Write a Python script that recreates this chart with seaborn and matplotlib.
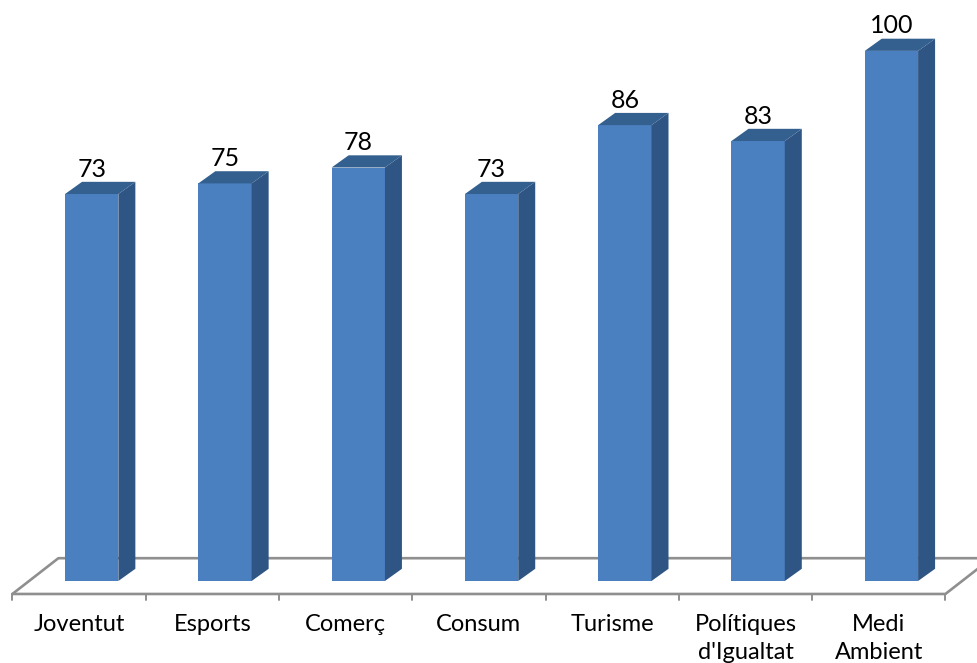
import matplotlib
matplotlib.use('Agg')
import matplotlib.pyplot as plt
import pandas as pd
import seaborn as sns
from matplotlib.patches import Polygon

categories = ['Joventut', 'Esports', 'Comerç', 'Consum', 'Turisme',
              "Polítiques\nd'Igualtat", 'Medi\nAmbient']
values = [73, 75, 78, 73, 86, 83, 100]

sns.set_theme(style='white')
plt.rcParams['font.family'] = ['Lato', 'DejaVu Sans']

df = pd.DataFrame({'area': categories, 'valor': values})

fig = plt.figure(figsize=(9.77, 6.63), dpi=100)
ax = fig.add_axes([0, 0, 1, 1])

# bars through seaborn, 3d faces are added from the bar patches below
sns.barplot(data=df, x='area', y='valor', color='#4a7fc0', saturation=1,
            width=0.4, linewidth=0, ax=ax, zorder=3)

ax.set_xlim(-0.688, 6.642)
ax.set_ylim(-15.47, 109.6)
ax.axis('off')

# depth of the fake 3d
dx, dy = 0.1275, 2.3
for bar in list(ax.patches):
    x0, w, h = bar.get_x(), bar.get_width(), bar.get_height()
    x1 = x0 + w
    ax.add_patch(Polygon([(x1, 0), (x1 + dx, dy), (x1 + dx, h + dy), (x1, h)],
                         facecolor='#2f5584', edgecolor='none', zorder=3))
    ax.add_patch(Polygon([(x0, h), (x0 + dx, h + dy), (x1 + dx, h + dy), (x1, h)],
                         facecolor='#33608f', edgecolor='none', zorder=3))
    ax.text(x0 + w / 2, h + dy + 2.4, f'{h:.0f}', ha='center', va='center',
            fontsize=18, color='black', zorder=4)

# floor of the chart
floor = '#8f8f8f'
left, right = -0.595, 6.405
front, back = -2.45, 4.3
ax.plot([left, left + 0.345, 6.66], [front, back, back], color=floor, lw=1.9, zorder=1)
ax.plot([left, right, right + 0.345], [front, front, back], color=floor, lw=1.9, zorder=1)

for i, name in enumerate(categories):
    ax.plot([left + i] * 2, [front, front - 1.2], color=floor, lw=1.4, zorder=1)
    ax.text(left + i + 0.5, front - 3.7, name, ha='center', va='top',
            fontsize=17, color='black', linespacing=1.42)
ax.plot([right] * 2, [front, front - 1.2], color=floor, lw=1.4, zorder=1)

fig.savefig('out.png', dpi=100)
